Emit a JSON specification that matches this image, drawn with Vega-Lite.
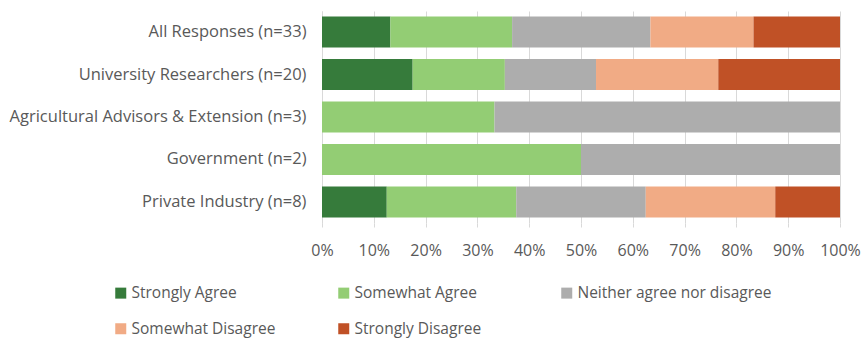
{
  "$schema": "https://vega.github.io/schema/vega-lite/v6.json",
  "width": 518,
  "height": 212,
  "autosize": {"type": "none"},
  "padding": {"left": 322, "top": 11, "right": 25, "bottom": 115},
  "background": "white",
  "config": {
    "font": "Open Sans",
    "view": {"stroke": null}
  },
  "data": {
    "values": [
      {"group": "All Responses (n=33)", "response": "Strongly Agree", "pct": 13.2},
      {"group": "All Responses (n=33)", "response": "Somewhat Agree", "pct": 23.5},
      {"group": "All Responses (n=33)", "response": "Neither agree nor disagree", "pct": 26.7},
      {"group": "All Responses (n=33)", "response": "Somewhat Disagree", "pct": 19.9},
      {"group": "All Responses (n=33)", "response": "Strongly Disagree", "pct": 16.7},
      {"group": "University Researchers (n=20)", "response": "Strongly Agree", "pct": 17.5},
      {"group": "University Researchers (n=20)", "response": "Somewhat Agree", "pct": 17.8},
      {"group": "University Researchers (n=20)", "response": "Neither agree nor disagree", "pct": 17.6},
      {"group": "University Researchers (n=20)", "response": "Somewhat Disagree", "pct": 23.6},
      {"group": "University Researchers (n=20)", "response": "Strongly Disagree", "pct": 23.5},
      {"group": "Agricultural Advisors & Extension (n=3)", "response": "Somewhat Agree", "pct": 33.3},
      {"group": "Agricultural Advisors & Extension (n=3)", "response": "Neither agree nor disagree", "pct": 66.7},
      {"group": "Government (n=2)", "response": "Somewhat Agree", "pct": 50},
      {"group": "Government (n=2)", "response": "Neither agree nor disagree", "pct": 50},
      {"group": "Private Industry (n=8)", "response": "Strongly Agree", "pct": 12.5},
      {"group": "Private Industry (n=8)", "response": "Somewhat Agree", "pct": 25},
      {"group": "Private Industry (n=8)", "response": "Neither agree nor disagree", "pct": 25},
      {"group": "Private Industry (n=8)", "response": "Somewhat Disagree", "pct": 25},
      {"group": "Private Industry (n=8)", "response": "Strongly Disagree", "pct": 12.5}
    ]
  },
  "transform": [
    {
      "calculate": "indexof(['Strongly Agree', 'Somewhat Agree', 'Neither agree nor disagree', 'Somewhat Disagree', 'Strongly Disagree'], datum.response)",
      "as": "stackOrder"
    }
  ],
  "mark": {"type": "bar"},
  "encoding": {
    "y": {
      "field": "group",
      "type": "nominal",
      "sort": null,
      "title": null,
      "scale": {"paddingInner": 0.27, "paddingOuter": 0.13},
      "axis": {
        "ticks": false,
        "domain": true,
        "domainColor": "#d9d9d9",
        "labelFontSize": 16.5,
        "labelColor": "#595959",
        "labelPadding": 16,
        "labelLimit": 400
      }
    },
    "x": {
      "field": "pct",
      "type": "quantitative",
      "stack": "normalize",
      "title": null,
      "scale": {"domain": [0, 1], "nice": false},
      "axis": {
        "values": [0, 0.1, 0.2, 0.3, 0.4, 0.5, 0.6, 0.7, 0.8, 0.9, 1],
        "format": ".0%",
        "grid": true,
        "gridColor": "#d9d9d9",
        "domain": false,
        "ticks": true,
        "tickSize": 4,
        "tickColor": "#d9d9d9",
        "labelFontSize": 16,
        "labelColor": "#595959",
        "labelPadding": 15,
        "labelFlush": false
      }
    },
    "order": {"field": "stackOrder", "type": "quantitative", "sort": "ascending"},
    "color": {
      "field": "response",
      "type": "nominal",
      "sort": ["Strongly Agree", "Somewhat Agree", "Neither agree nor disagree", "Somewhat Disagree", "Strongly Disagree"],
      "scale": {
        "domain": ["Strongly Agree", "Somewhat Agree", "Neither agree nor disagree", "Somewhat Disagree", "Strongly Disagree"],
        "range": ["#367b3b", "#93cd74", "#adadad", "#f1ab85", "#c05126"]
      },
      "legend": {
        "title": null,
        "orient": "none",
        "legendX": -209,
        "legendY": 274,
        "direction": "horizontal",
        "columns": 3,
        "gridAlign": "all",
        "columnPadding": 10,
        "rowPadding": 19,
        "symbolType": "square",
        "symbolSize": 121,
        "symbolStrokeWidth": 0,
        "labelFontSize": 15.5,
        "labelColor": "#595959",
        "labelOffset": 3,
        "labelLimit": 300
      }
    }
  }
}
